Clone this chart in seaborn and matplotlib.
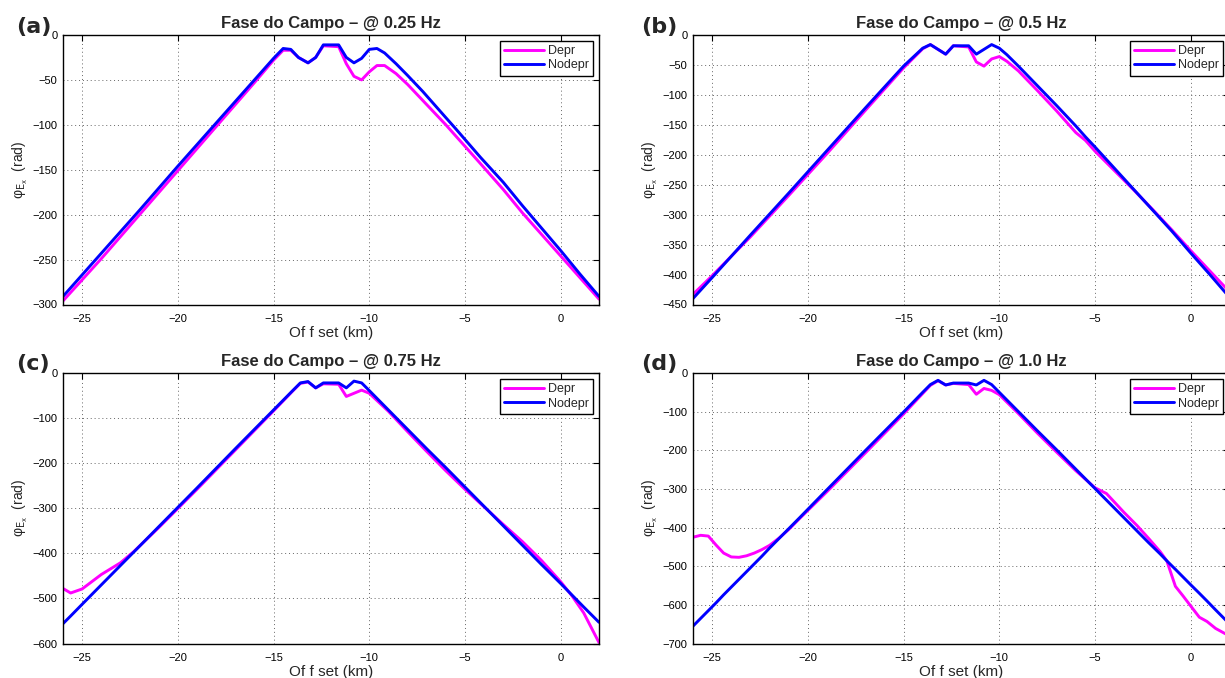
import matplotlib
matplotlib.use("Agg")
import matplotlib.pyplot as plt
import seaborn as sns
import pandas as pd

# ---- data: phase of the Ex field vs offset, with and without depression ----
offset_a = [-26, -24, -22, -20, -18, -16, -15, -14.5, -14.1, -13.7, -13.2, -12.8, -12.4,
            -11.6, -11.2, -10.8, -10.4, -10, -9.6, -9.2, -8.6, -8, -7.2, -6, -5.5, -4.2,
            -3, -2, -1, 0, 1, 2]
nodepr_a = [-291, -243, -195, -146, -98, -50, -26, -15, -16, -25, -31, -25, -11,
            -11, -25, -31, -26, -16, -15, -20, -32, -45, -63, -92, -104, -136,
            -164, -190, -215, -240, -266, -291]
depr_a = [-296, -249, -200, -151, -102, -53, -28, -17, -17, -25, -31, -25, -12,
          -13, -32, -46, -50, -41, -34, -34, -43, -55, -73, -100, -112, -143,
          -172, -198, -222, -246, -270, -294]

offset_b = [-26, -25, -23, -21, -19, -17, -15, -14, -13.6, -12.8, -12.4, -11.6, -11.2,
            -10.8, -10.4, -10, -9.6, -9, -8, -7, -6, -5.5, -5, -4, -3, -2, -1, 0, 1, 2]
nodepr_b = [-440, -405, -334, -264, -193, -122, -52, -22, -16, -32, -18, -18, -32,
            -24, -16, -22, -33, -52, -85, -118, -152, -170, -187, -222, -257, -292,
            -327, -364, -400, -437]
depr_b = [-433, -402, -337, -268, -198, -126, -55, -23, -16, -32, -18, -20, -45,
          -52, -40, -36, -44, -60, -93, -127, -163, -176, -194, -226, -258, -291,
          -325, -360, -394, -428]

offset_c = [-26, -25.6, -25, -24, -23, -22.3, -21, -19, -17, -15, -14, -13.6, -13.2,
            -12.8, -12.4, -11.6, -11.2, -10.8, -10.4, -10, -9, -8, -7, -6, -5, -4,
            -3, -2, -1, 0, 0.6, 1.2, 2]
nodepr_c = [-556, -539, -513, -470, -427, -397, -341, -255, -168, -82, -39, -22, -19,
            -33, -22, -22, -33, -18, -22, -39, -82, -125, -168, -210, -253, -296,
            -339, -382, -425, -467, -493, -519, -553]
depr_c = [-478, -488, -479, -447, -421, -396, -343, -258, -171, -84, -40, -23, -20,
          -33, -24, -25, -52, -45, -38, -45, -85, -130, -174, -217, -258, -297,
          -336, -374, -416, -463, -495, -532, -598]

offset_d = [-26, -25.6, -25.2, -24.8, -24.4, -24, -23.6, -23.2, -22.8, -22.4, -22,
            -21.5, -21, -20.4, -19, -17, -15, -14, -13.6, -13.2, -12.8, -12.4, -11.6,
            -11.2, -10.8, -10.4, -10, -9, -8, -7, -6, -5, -4.4, -3.5, -2.8, -2.2,
            -1.6, -1.25, -0.8, -0.4, 0, 0.45, 0.85, 1.3, 2]
nodepr_d = [-655, -635, -615, -595, -574, -554, -534, -514, -494, -474, -453,
            -428, -403, -373, -302, -201, -101, -50, -30, -19, -31, -26, -26,
            -31, -19, -30, -50, -100, -150, -199, -249, -299, -329, -374, -409, -439,
            -468, -486, -508, -528, -548, -570, -590, -613, -648]
depr_d = [-425, -420, -422, -445, -466, -476, -477, -473, -466, -457, -446,
          -427, -405, -375, -307, -207, -106, -53, -32, -20, -31, -27, -30,
          -55, -40, -45, -56, -105, -156, -205, -253, -297, -312, -360, -395, -428,
          -462, -486, -552, -577, -603, -632, -643, -661, -680]

panel_tags = ["(a)", "(b)", "(c)", "(d)"]
frequencies = ["0.25", "0.5", "0.75", "1.0"]
y_limits = [(-300, 0), (-450, 0), (-600, 0), (-700, 0)]
y_steps = [50, 50, 100, 100]
x_ticks = [-25, -20, -15, -10, -5, 0]

panels = [
    (offset_a, depr_a, nodepr_a),
    (offset_b, depr_b, nodepr_b),
    (offset_c, depr_c, nodepr_c),
    (offset_d, depr_d, nodepr_d),
]

sns.set_style("white")
plt.rcParams["font.family"] = ["Liberation Sans", "DejaVu Sans"]
plt.rcParams["axes.unicode_minus"] = True

W, H = 1225, 678
fig = plt.figure(figsize=(W / 100, H / 100), dpi=100)

# axes rectangles in pixels: (left, top, right, bottom)
boxes = [(63, 35, 599, 304.5), (693, 35, 1229, 304.5),
         (63, 373, 599, 643.5), (693, 373, 1229, 643.5)]
tag_pos = [(16, 33), (641, 33), (16, 370), (641, 370)]

for i, (off, dep, nod) in enumerate(panels):
    l, t, r, b = boxes[i]
    ax = fig.add_axes([l / W, 1 - b / H, (r - l) / W, (b - t) / H])
    df = pd.DataFrame({"offset": off, "Depr": dep, "Nodepr": nod})
    sns.lineplot(data=df, x="offset", y="Depr", ax=ax, color="#ff00ff", lw=2.1,
                 label="Depr", sort=False, estimator=None)
    sns.lineplot(data=df, x="offset", y="Nodepr", ax=ax, color="#0000ff", lw=2.1,
                 label="Nodepr", sort=False, estimator=None)

    ax.set_xlim(-26, 2)
    ymin, ymax = y_limits[i]
    ax.set_ylim(ymin, ymax)
    ax.set_xticks(x_ticks)
    ax.set_yticks(list(range(ymin, ymax + 1, y_steps[i])))
    ax.tick_params(direction="in", length=4, width=0.8, top=True, right=True,
                   labelsize=8, colors="black")
    ax.tick_params(axis="x", pad=7)
    ax.tick_params(axis="y", pad=4)
    ax.grid(True, linestyle=(0, (1, 3)), color="#666666", linewidth=0.7)
    for sp in ax.spines.values():
        sp.set_visible(True)
        sp.set_color("black")
        sp.set_linewidth(1.0)

    ax.set_title(f"Fase do Campo \u2013 @ {frequencies[i]} Hz", fontsize=12,
                 fontweight="bold", pad=5)
    ax.set_xlabel("Of f set (km)", fontsize=11, labelpad=1)
    ax.set_ylabel(r"φ$_{\mathrm{E_x}}$  (rad)", fontsize=10, labelpad=2)

    leg = ax.legend(loc="upper right", fontsize=9, frameon=True, fancybox=False,
                    edgecolor="black", framealpha=1, handlelength=3.2,
                    borderpad=0.35, labelspacing=0.2, handletextpad=0.3,
                    borderaxespad=0.45)
    leg.get_frame().set_linewidth(1.0)

    tx, ty = tag_pos[i]
    fig.text(tx / W, 1 - ty / H, panel_tags[i], fontsize=16, fontweight="bold",
             family="DejaVu Sans", ha="left", va="baseline")

fig.savefig("out.png", dpi=100)
